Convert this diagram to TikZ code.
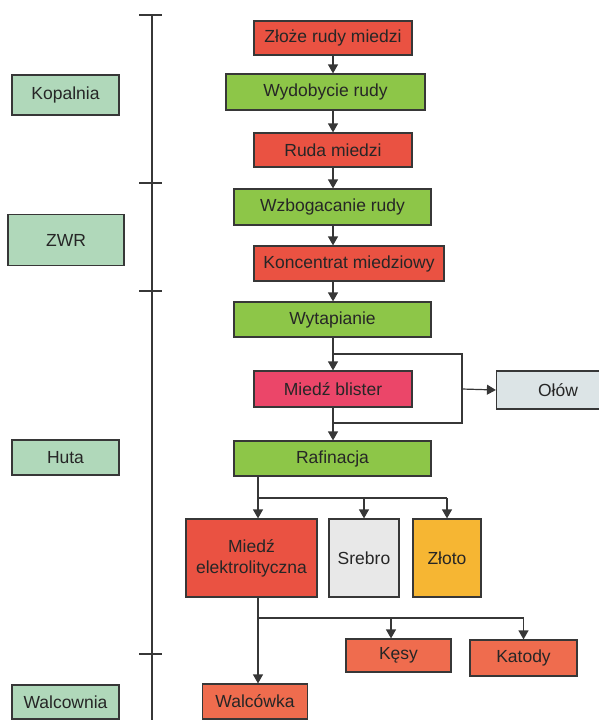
\documentclass[tikz,border=0pt]{standalone}
\usepackage{fontspec}
\setmainfont{Liberation Sans}
\usetikzlibrary{arrows.meta}
\definecolor{rudared}{RGB}{234,82,66}
\definecolor{procgreen}{RGB}{141,198,72}
\definecolor{blisterred}{RGB}{235,70,105}
\definecolor{leadgray}{RGB}{220,228,230}
\definecolor{silvergray}{RGB}{232,232,232}
\definecolor{goldyellow}{RGB}{246,182,51}
\definecolor{prodorange}{RGB}{239,108,78}
\definecolor{stagegreen}{RGB}{176,216,186}
\definecolor{edgegray}{RGB}{55,55,55}
\tikzset{
  box/.style={draw=edgegray, line width=1.2pt, inner sep=0pt, align=center,
    text=black!85, font=\fontsize{17.5}{21}\selectfont},
  stagebox/.style={box, fill=stagegreen},
  flow/.style={draw=edgegray, line width=1.2pt, -{Triangle[length=9pt,width=10pt]}},
  link/.style={draw=edgegray, line width=1.2pt}
}
\begin{document}
\begin{tikzpicture}[x=1pt, y=-1pt]
  \useasboundingbox (0,0) rectangle (599,720);
  % stages on the left
  \node[stagebox, minimum width=107pt, minimum height=40pt] (kopalnia) at (65.5,95) {Kopalnia};
  \node[stagebox, minimum width=116pt, minimum height=51pt] (zwr) at (66,240) {ZWR};
  \node[stagebox, minimum width=107pt, minimum height=35pt] (huta) at (65.5,457.5) {Huta};
  \node[stagebox, minimum width=107pt, minimum height=34pt] (walcownia) at (65.5,702) {Walcownia};
  % time line with ticks
  \coordinate (ltop) at (152,15); \coordinate (lbot) at (152,720);
  \draw[link] (ltop) -- (lbot);
  \foreach \ty in {15,183,291,654}
    \draw[link] (139,\ty) -- (162,\ty);
  % main chain
  \node[box, fill=rudared, minimum width=158pt, minimum height=34pt] (zloze) at (333,38) {Złoże rudy miedzi};
  \node[box, fill=procgreen, minimum width=199pt, minimum height=36pt] (wydob) at (325.5,92) {Wydobycie rudy};
  \node[box, fill=rudared, minimum width=158pt, minimum height=34pt] (ruda) at (333,150) {Ruda miedzi};
  \node[box, fill=procgreen, minimum width=197pt, minimum height=36pt] (wzbog) at (332.5,207) {Wzbogacanie rudy};
  \node[box, fill=rudared, minimum width=190pt, minimum height=35pt] (konc) at (349,263.5) {Koncentrat miedziowy};
  \node[box, fill=procgreen, minimum width=197pt, minimum height=35pt] (wytap) at (332.5,319.5) {Wytapianie};
  \node[box, fill=blisterred, minimum width=158pt, minimum height=36pt] (blister) at (333,389) {Miedź blister};
  \node[box, fill=leadgray, minimum width=123pt, minimum height=38pt] (olow) at (558,390) {Ołów};
  \node[box, fill=procgreen, minimum width=197pt, minimum height=35pt] (rafin) at (332.5,458.5) {Rafinacja};
  % products
  \node[box, fill=rudared, minimum width=131pt, minimum height=78pt] (melek) at (251.5,558) {Miedź\\elektrolityczna};
  \node[box, fill=silvergray, minimum width=70pt, minimum height=78pt] (srebro) at (364,558) {Srebro};
  \node[box, fill=goldyellow, minimum width=68pt, minimum height=78pt] (zloto) at (447,558) {Złoto};
  \node[box, fill=prodorange, minimum width=105pt, minimum height=33pt] (kesy) at (398.5,655.5) {Kęsy};
  \node[box, fill=prodorange, minimum width=107pt, minimum height=36pt] (katody) at (523.5,658) {Katody};
  \node[box, fill=prodorange, minimum width=105pt, minimum height=35pt] (walc) at (255,701.5) {Walcówka};
  % arrows down the chain
  \draw[flow] (zloze.south) -- (zloze.south |- wydob.north);
  \draw[flow] (zloze.south |- wydob.south) -- (ruda.north);
  \draw[flow] (ruda.south) -- (ruda.south |- wzbog.north);
  \draw[flow] (ruda.south |- wzbog.south) -- (ruda.south |- konc.north);
  \draw[flow] (ruda.south |- konc.south) -- (ruda.south |- wytap.north);
  % bypass to lead
  \coordinate (split) at (333,354); \coordinate (join) at (333,423);
  \coordinate (byp) at (462,389);
  \draw[flow] (ruda.south |- wytap.south) -- (blister.north);
  \draw[link] (split) -| (byp |- join) -- (join);
  \draw[flow] (byp) -- (olow.west);
  \draw[flow] (blister.south) -- (blister.south |- rafin.north);
  % refining outputs
  \coordinate (hubr) at (258,498);
  \draw[link] (hubr |- rafin.south) -- (hubr) -- (zloto.north |- hubr);
  \draw[flow] (hubr) -- (hubr |- melek.north);
  \draw[flow] (srebro.north |- hubr) -- (srebro.north);
  \draw[flow] (zloto.north |- hubr) -- (zloto.north);
  % copper products
  \coordinate (hube) at (258,618); \coordinate (kesyin) at (391,618);
  \draw[link] (hube |- melek.south) -- (hube) -- (katody.north |- hube);
  \draw[flow] (hube) -- (hube |- walc.north);
  \draw[flow] (kesyin) -- (kesyin |- kesy.north);
  \draw[flow] (katody.north |- hube) -- (katody.north);
\end{tikzpicture}
\end{document}
